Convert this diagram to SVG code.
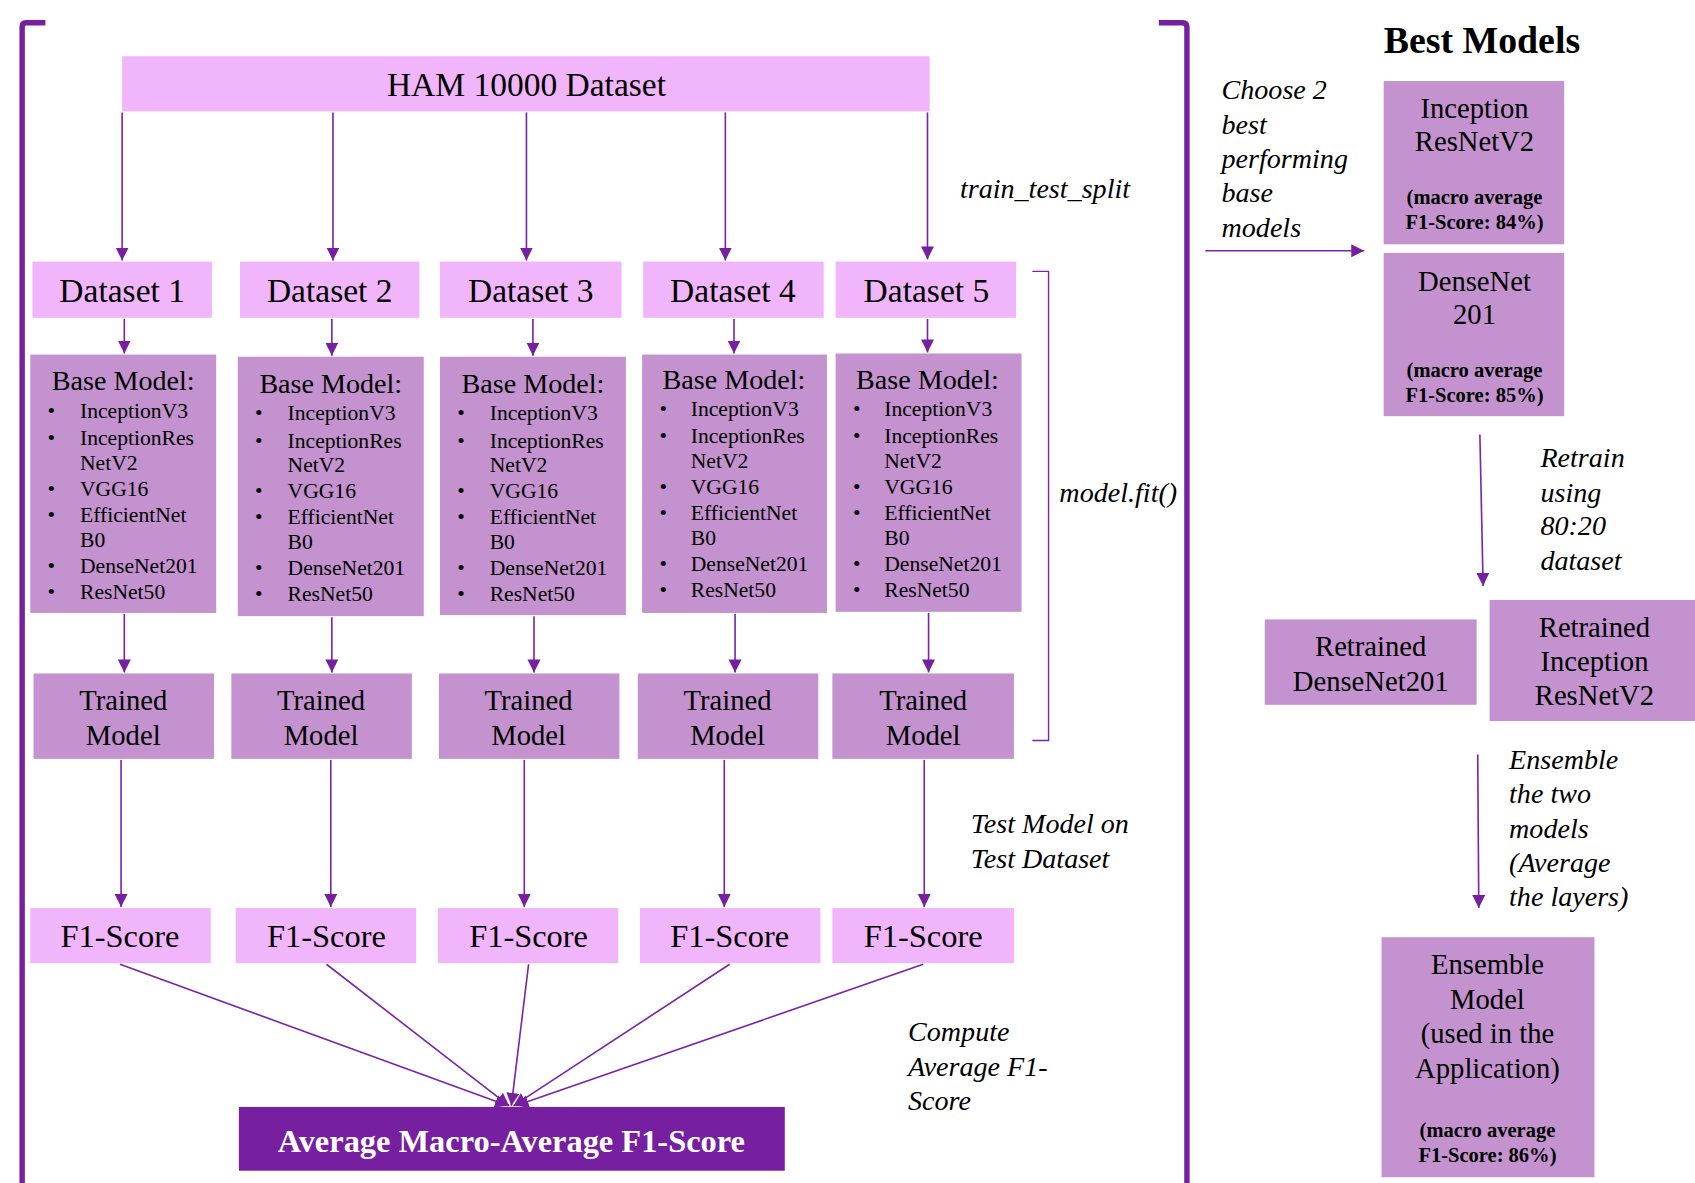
<svg xmlns="http://www.w3.org/2000/svg" width="1695" height="1183" viewBox="0 0 1695 1183">
<defs>
<style>
text{font-family:"Liberation Serif","Times New Roman",serif;fill:#000}
.lt{fill:#F0B5FB}
.md{fill:#C392CF}
.dk{fill:#761FA0}
.t31{font-size:31px;text-anchor:middle}
.t30{font-size:30px;text-anchor:middle}
.t26{font-size:26.5px;text-anchor:middle}
.bm{font-size:26px;text-anchor:middle}
.li{font-size:20px}
.sm{font-size:19px;font-weight:bold;text-anchor:middle}
.it{font-size:26px;font-style:italic}
.c{stroke:#7B24A8;stroke-width:1.5;fill:none}
.br{stroke:#761FA0;stroke-width:5;fill:none}
</style>
<marker id="ah" markerUnits="userSpaceOnUse" markerWidth="13" markerHeight="13" refX="12" refY="6" orient="auto">
<path d="M0,0 L12,6 L0,12 z" fill="#761FA0"/>
</marker>
</defs>
<rect width="1695" height="1183" fill="#fff"/>
<g transform="scale(1.08099)">
<g id="brackets">
<path class="br" d="M42,21 L24,21 Q20.5,21 20.5,25 L20.5,1100"/>
<path class="br" d="M1072,21 L1094,21 Q1098,21 1098,25 L1098,1100"/>
<path class="c" style="stroke-width:1.3" d="M955,251 L970,251 L970,685 L955,685"/>
</g>
<g id="connectors">
<line class="c" x1="113" y1="104" x2="113" y2="241" marker-end="url(#ah)"/>
<line class="c" x1="308" y1="104" x2="308" y2="241" marker-end="url(#ah)"/>
<line class="c" x1="487" y1="104" x2="487" y2="241" marker-end="url(#ah)"/>
<line class="c" x1="671" y1="104" x2="671" y2="241" marker-end="url(#ah)"/>
<line class="c" x1="858" y1="104" x2="858" y2="240" marker-end="url(#ah)"/>
<line class="c" x1="115" y1="295" x2="115" y2="327" marker-end="url(#ah)"/>
<line class="c" x1="307" y1="295" x2="307" y2="329" marker-end="url(#ah)"/>
<line class="c" x1="493" y1="295" x2="493" y2="329" marker-end="url(#ah)"/>
<line class="c" x1="679" y1="295" x2="679" y2="327" marker-end="url(#ah)"/>
<line class="c" x1="858" y1="295" x2="858" y2="326" marker-end="url(#ah)"/>
<line class="c" x1="115" y1="568" x2="115" y2="622" marker-end="url(#ah)"/>
<line class="c" x1="307" y1="571" x2="307" y2="622" marker-end="url(#ah)"/>
<line class="c" x1="494" y1="570" x2="494" y2="622" marker-end="url(#ah)"/>
<line class="c" x1="680" y1="568" x2="680" y2="622" marker-end="url(#ah)"/>
<line class="c" x1="859" y1="567" x2="859" y2="622" marker-end="url(#ah)"/>
<line class="c" x1="112" y1="703" x2="112" y2="839" marker-end="url(#ah)"/>
<line class="c" x1="306" y1="703" x2="306" y2="839" marker-end="url(#ah)"/>
<line class="c" x1="485" y1="703" x2="485" y2="839" marker-end="url(#ah)"/>
<line class="c" x1="670" y1="703" x2="670" y2="839" marker-end="url(#ah)"/>
<line class="c" x1="855" y1="703" x2="855" y2="839" marker-end="url(#ah)"/>
<line class="c" x1="111" y1="892" x2="470" y2="1023" marker-end="url(#ah)"/>
<line class="c" x1="302" y1="892" x2="471" y2="1023" marker-end="url(#ah)"/>
<line class="c" x1="489" y1="892" x2="473" y2="1023" marker-end="url(#ah)"/>
<line class="c" x1="675" y1="892" x2="475" y2="1023" marker-end="url(#ah)"/>
<line class="c" x1="854" y1="892" x2="477" y2="1023" marker-end="url(#ah)"/>
<line class="c" x1="1115" y1="232" x2="1262" y2="232" marker-end="url(#ah)"/>
<line class="c" x1="1369" y1="402" x2="1372" y2="542" marker-end="url(#ah)"/>
<line class="c" x1="1367" y1="698" x2="1368" y2="840" marker-end="url(#ah)"/>
</g>
<g id="ham"><rect class="lt" x="113" y="52" width="747" height="51"/><text class="t31" x="487" y="89">HAM 10000 Dataset</text></g>
<g id="ds1"><rect class="lt" x="30" y="242" width="166" height="52"/><text class="t31" x="113" y="279">Dataset 1</text></g>
<g id="ds2"><rect class="lt" x="222" y="242" width="166" height="52"/><text class="t31" x="305" y="279">Dataset 2</text></g>
<g id="ds3"><rect class="lt" x="407" y="242" width="168" height="52"/><text class="t31" x="491" y="279">Dataset 3</text></g>
<g id="ds4"><rect class="lt" x="595" y="242" width="167" height="52"/><text class="t31" x="678" y="279">Dataset 4</text></g>
<g id="ds5"><rect class="lt" x="773" y="242" width="167" height="52"/><text class="t31" x="857" y="279">Dataset 5</text></g>
<g id="bm1" transform="translate(28,328)">
<rect class="md" width="172" height="239"/>
<text class="bm" x="86" y="33">Base Model:</text>
<g class="li"><text x="16" y="59">•</text><text x="46" y="59">InceptionV3</text><text x="16" y="84">•</text><text x="46" y="84">InceptionRes</text><text x="46" y="107">NetV2</text><text x="16" y="131">•</text><text x="46" y="131">VGG16</text><text x="16" y="155">•</text><text x="46" y="155">EfficientNet</text><text x="46" y="178">B0</text><text x="16" y="202">•</text><text x="46" y="202">DenseNet201</text><text x="16" y="226">•</text><text x="46" y="226">ResNet50</text></g>
</g>
<g id="bm2" transform="translate(220,330)">
<rect class="md" width="172" height="240"/>
<text class="bm" x="86" y="34">Base Model:</text>
<g class="li"><text x="16" y="59">•</text><text x="46" y="59">InceptionV3</text><text x="16" y="84">•</text><text x="46" y="84">InceptionRes</text><text x="46" y="107">NetV2</text><text x="16" y="131">•</text><text x="46" y="131">VGG16</text><text x="16" y="155">•</text><text x="46" y="155">EfficientNet</text><text x="46" y="178">B0</text><text x="16" y="202">•</text><text x="46" y="202">DenseNet201</text><text x="16" y="226">•</text><text x="46" y="226">ResNet50</text></g>
</g>
<g id="bm3" transform="translate(407,330)">
<rect class="md" width="172" height="239"/>
<text class="bm" x="86" y="34">Base Model:</text>
<g class="li"><text x="16" y="59">•</text><text x="46" y="59">InceptionV3</text><text x="16" y="84">•</text><text x="46" y="84">InceptionRes</text><text x="46" y="107">NetV2</text><text x="16" y="131">•</text><text x="46" y="131">VGG16</text><text x="16" y="155">•</text><text x="46" y="155">EfficientNet</text><text x="46" y="178">B0</text><text x="16" y="202">•</text><text x="46" y="202">DenseNet201</text><text x="16" y="226">•</text><text x="46" y="226">ResNet50</text></g>
</g>
<g id="bm4" transform="translate(594,328)">
<rect class="md" width="171" height="239"/>
<text class="bm" x="85" y="32">Base Model:</text>
<g class="li"><text x="16" y="57">•</text><text x="45" y="57">InceptionV3</text><text x="16" y="82">•</text><text x="45" y="82">InceptionRes</text><text x="45" y="105">NetV2</text><text x="16" y="129">•</text><text x="45" y="129">VGG16</text><text x="16" y="153">•</text><text x="45" y="153">EfficientNet</text><text x="45" y="176">B0</text><text x="16" y="200">•</text><text x="45" y="200">DenseNet201</text><text x="16" y="224">•</text><text x="45" y="224">ResNet50</text></g>
</g>
<g id="bm5" transform="translate(773,327)">
<rect class="md" width="172" height="239"/>
<text class="bm" x="85" y="33">Base Model:</text>
<g class="li"><text x="16" y="58">•</text><text x="45" y="58">InceptionV3</text><text x="16" y="83">•</text><text x="45" y="83">InceptionRes</text><text x="45" y="106">NetV2</text><text x="16" y="130">•</text><text x="45" y="130">VGG16</text><text x="16" y="154">•</text><text x="45" y="154">EfficientNet</text><text x="45" y="177">B0</text><text x="16" y="201">•</text><text x="45" y="201">DenseNet201</text><text x="16" y="225">•</text><text x="45" y="225">ResNet50</text></g>
</g>
<g id="tm1"><rect class="md" x="31" y="623" width="167" height="79"/><text class="t26" x="114" y="657">Trained</text><text class="t26" x="114" y="689">Model</text></g>
<g id="tm2"><rect class="md" x="214" y="623" width="167" height="79"/><text class="t26" x="297" y="657">Trained</text><text class="t26" x="297" y="689">Model</text></g>
<g id="tm3"><rect class="md" x="406" y="623" width="167" height="79"/><text class="t26" x="489" y="657">Trained</text><text class="t26" x="489" y="689">Model</text></g>
<g id="tm4"><rect class="md" x="590" y="623" width="167" height="79"/><text class="t26" x="673" y="657">Trained</text><text class="t26" x="673" y="689">Model</text></g>
<g id="tm5"><rect class="md" x="770" y="623" width="168" height="79"/><text class="t26" x="854" y="657">Trained</text><text class="t26" x="854" y="689">Model</text></g>
<g id="f1"><rect class="lt" x="28" y="840" width="167" height="51"/><text class="t30" x="111" y="876">F1-Score</text></g>
<g id="f2"><rect class="lt" x="218" y="840" width="167" height="51"/><text class="t30" x="302" y="876">F1-Score</text></g>
<g id="f3"><rect class="lt" x="405" y="840" width="167" height="51"/><text class="t30" x="489" y="876">F1-Score</text></g>
<g id="f4"><rect class="lt" x="592" y="840" width="167" height="51"/><text class="t30" x="675" y="876">F1-Score</text></g>
<g id="f5"><rect class="lt" x="770" y="840" width="168" height="51"/><text class="t30" x="854" y="876">F1-Score</text></g>
<g id="avg"><rect class="dk" x="221" y="1024" width="505" height="59"/><text class="t30" x="473" y="1066" style="fill:#fff;font-weight:bold">Average Macro-Average F1-Score</text></g>
<g id="labels">
<text class="it" x="888" y="183">train_test_split</text>
<text class="it" x="980" y="464">model.fit()</text>
<text class="it" x="898" y="771">Test Model on</text>
<text class="it" x="898" y="803">Test Dataset</text>
<text class="it" x="840" y="963">Compute</text>
<text class="it" x="840" y="995">Average F1-</text>
<text class="it" x="840" y="1027">Score</text>
<text x="1280" y="49" style="font-size:35px;font-weight:bold">Best Models</text>
<text class="it" x="1130" y="92">Choose 2</text>
<text class="it" x="1130" y="124">best</text>
<text class="it" x="1130" y="155">performing</text>
<text class="it" x="1130" y="187">base</text>
<text class="it" x="1130" y="219">models</text>
<text class="it" x="1425" y="432">Retrain</text>
<text class="it" x="1425" y="464">using</text>
<text class="it" x="1425" y="495">80:20</text>
<text class="it" x="1425" y="527">dataset</text>
<text class="it" x="1396" y="711">Ensemble</text>
<text class="it" x="1396" y="743">the two</text>
<text class="it" x="1396" y="775">models</text>
<text class="it" x="1396" y="807">(Average</text>
<text class="it" x="1396" y="838">the layers)</text>
</g>
<g id="inc"><rect class="md" x="1280" y="75" width="167" height="151"/><text class="t26" x="1364" y="109">Inception</text><text class="t26" x="1364" y="140">ResNetV2</text><text class="sm" x="1364" y="189">(macro average</text><text class="sm" x="1364" y="212">F1-Score: 84%)</text></g>
<g id="dn"><rect class="md" x="1280" y="234" width="167" height="151"/><text class="t26" x="1364" y="269">DenseNet</text><text class="t26" x="1364" y="300">201</text><text class="sm" x="1364" y="349">(macro average</text><text class="sm" x="1364" y="372">F1-Score: 85%)</text></g>
<g id="rdn"><rect class="md" x="1170" y="573" width="196" height="79"/><text class="t26" x="1268" y="607">Retrained</text><text class="t26" x="1268" y="639">DenseNet201</text></g>
<g id="rinc"><rect class="md" x="1378" y="555" width="192" height="112"/><text class="t26" x="1475" y="589">Retrained</text><text class="t26" x="1475" y="621">Inception</text><text class="t26" x="1475" y="652">ResNetV2</text></g>
<g id="ens"><rect class="md" x="1278" y="867" width="197" height="222"/><text class="t26" x="1376" y="901">Ensemble</text><text class="t26" x="1376" y="933">Model</text><text class="t26" x="1376" y="965">(used in the</text><text class="t26" x="1376" y="997">Application)</text><text class="sm" x="1376" y="1052">(macro average</text><text class="sm" x="1376" y="1075">F1-Score: 86%)</text></g>
</g>
</svg>
